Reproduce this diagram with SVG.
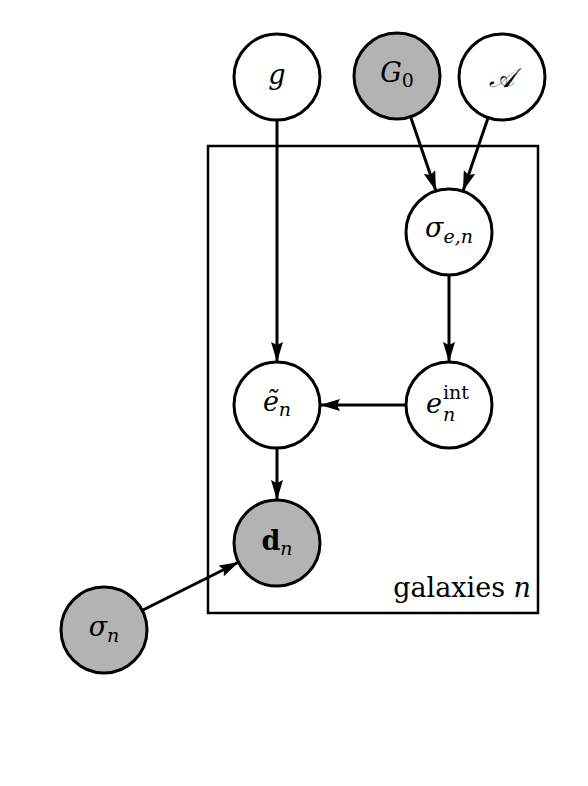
<svg xmlns="http://www.w3.org/2000/svg" width="588" height="786" viewBox="0 0 588 786">
<style>
.node{stroke:#000;stroke-width:3;}
.obs{fill:#b3b3b3;}
.lat{fill:#fff;}
.edge{stroke:#000;stroke-width:3;fill:none;}
.t{font-family:"DejaVu Serif","Liberation Serif",serif;font-size:27px;fill:#000;}
.i{font-style:italic;}
.s{font-size:19px;}
</style>
<defs>
<marker id="ah" viewBox="0 0 20 12" refX="20" refY="6" markerWidth="20" markerHeight="12" markerUnits="userSpaceOnUse" orient="auto">
<path d="M0,0 L20,6 L0,12 L3,6 Z" fill="#000"/>
</marker>
</defs>
<rect width="588" height="786" fill="#fff"/>
<g id="plate">
<rect x="208" y="146" width="330" height="467" fill="none" stroke="#000" stroke-width="2.5"/>
<text class="t" x="531" y="597" text-anchor="end">galaxies <tspan class="i">n</tspan></text>
</g>
<g id="connectors">
<line class="edge" x1="277" y1="120" x2="277" y2="362" marker-end="url(#ah)"/>
<line class="edge" x1="411" y1="118" x2="436" y2="191" marker-end="url(#ah)"/>
<line class="edge" x1="488" y1="118" x2="463" y2="191" marker-end="url(#ah)"/>
<line class="edge" x1="449" y1="275" x2="449" y2="362" marker-end="url(#ah)"/>
<line class="edge" x1="406" y1="405" x2="320" y2="405" marker-end="url(#ah)"/>
<line class="edge" x1="277" y1="448" x2="277" y2="500" marker-end="url(#ah)"/>
<line class="edge" x1="143" y1="610" x2="239" y2="562" marker-end="url(#ah)"/>
</g>
<g id="g">
<circle class="node lat" cx="277" cy="77" r="43"/>
<text class="t i" x="277" y="84" text-anchor="middle">g</text>
</g>
<g id="G0">
<circle class="node obs" cx="397" cy="76" r="43"/>
<text class="t" x="397" y="82" text-anchor="middle"><tspan class="i">G</tspan><tspan class="s" dy="5">0</tspan></text>
</g>
<g id="A">
<circle class="node lat" cx="502" cy="77" r="43"/>
<text class="t i" x="502" y="87" text-anchor="middle" font-size="30">𝒜</text>
</g>
<g id="sigma_en">
<circle class="node lat" cx="449" cy="232" r="43"/>
<text class="t" x="449" y="237" text-anchor="middle"><tspan class="i">σ</tspan><tspan class="s i" dy="6">e,n</tspan></text>
</g>
<g id="e_int">
<circle class="node lat" cx="449" cy="405" r="43"/>
<text class="t i" x="426" y="413">e</text>
<text class="t s" x="443" y="399">int</text>
<text class="t s i" x="443" y="421">n</text>
</g>
<g id="e_tilde">
<circle class="node lat" cx="277" cy="405" r="43"/>
<text class="t" x="277" y="411" text-anchor="middle"><tspan class="i">ẽ</tspan><tspan class="s i" dy="5">n</tspan></text>
</g>
<g id="d_n">
<circle class="node obs" cx="277" cy="543" r="43"/>
<text class="t" x="277" y="550" text-anchor="middle"><tspan font-weight="bold">d</tspan><tspan class="s i" dy="5">n</tspan></text>
</g>
<g id="sigma_n">
<circle class="node obs" cx="104" cy="630" r="43"/>
<text class="t" x="104" y="636" text-anchor="middle"><tspan class="i">σ</tspan><tspan class="s i" dy="6">n</tspan></text>
</g>
</svg>
